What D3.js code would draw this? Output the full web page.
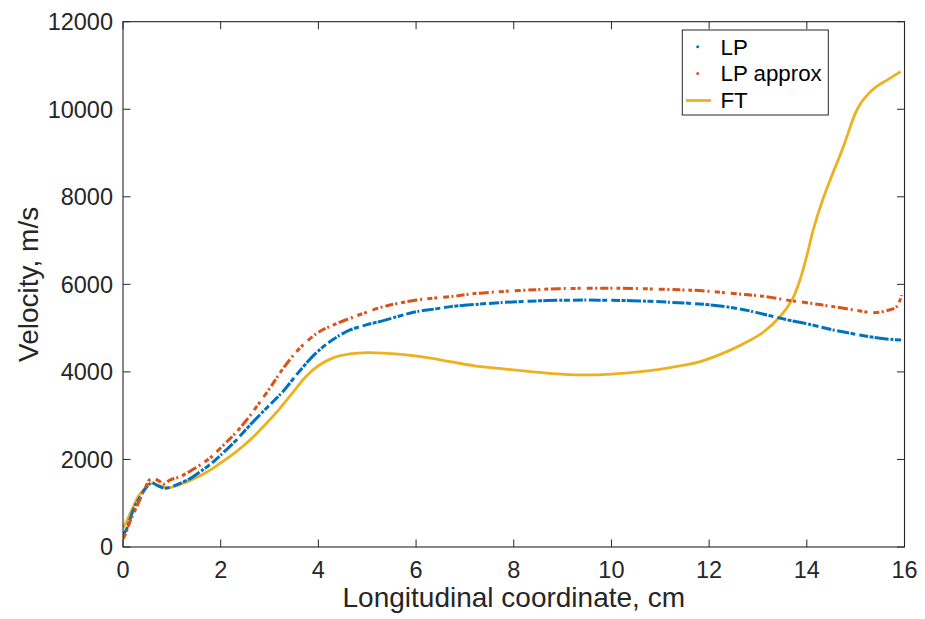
<!DOCTYPE html>
<html>
<head>
<meta charset="utf-8">
<script src="https://cdn.jsdelivr.net/npm/d3@7"></script>
<style>
  html, body { margin: 0; padding: 0; background: #fff; }
  svg { display: block; }
  text { font-family: "Liberation Sans", Arial, Helvetica, sans-serif; fill: #262626; }
</style>
</head>
<body>
<div id="chart"></div>
<script>
// ---- Data ----
const xTicks = [0, 2, 4, 6, 8, 10, 12, 14, 16];
const yTicks = [0, 2000, 4000, 6000, 8000, 10000, 12000];
const seriesNames = ["LP", "LP approx", "FT"];

const lpX = [0,0.07,0.14,0.21,0.35,0.49,0.59,0.69,0.86,1.0,1.17,1.4,1.58,1.8,2.0,2.3,2.6,2.9,3.28,3.6,3.97,4.3,4.65,5.0,5.33,5.7,6.01,6.4,6.7,7.2,7.72,8.3,8.9,9.5,10.0,10.6,11.2,11.88,12.4,12.8,13.18,13.6,14.0,14.54,15.0,15.36,15.7,15.98];
const lpY = [280,400,620,845,1150,1378,1470,1416,1340,1380,1455,1580,1720,1900,2100,2420,2787,3130,3560,4000,4450,4740,4958,5080,5171,5290,5377,5440,5491,5540,5582,5615,5635,5640,5635,5620,5590,5545,5480,5400,5300,5190,5100,4958,4860,4791,4745,4729];

const lpaX = [0,0.07,0.15,0.28,0.45,0.55,0.62,0.76,0.83,0.96,1.17,1.4,1.58,1.8,1.99,2.3,2.53,2.81,3.05,3.28,3.6,3.97,4.3,4.65,5.0,5.33,5.7,6.01,6.4,6.7,7.2,7.72,8.3,8.9,9.5,10.2,10.8,11.4,11.81,12.4,12.8,13.18,13.6,14.0,14.54,15.0,15.36,15.6,15.84,15.94];
const lpaY = [180,350,600,920,1340,1546,1570,1492,1440,1530,1606,1750,1873,2050,2255,2600,2900,3320,3700,4080,4520,4882,5070,5225,5370,5491,5580,5643,5690,5719,5790,5833,5870,5900,5910,5910,5895,5875,5857,5800,5760,5719,5640,5580,5491,5410,5353,5390,5491,5757];

const ftX = [0,0.1,0.21,0.3,0.42,0.52,0.6,0.7,0.86,1.0,1.2,1.4,1.7,2.0,2.3,2.6,2.9,3.2,3.5,3.75,4.0,4.3,4.65,5.0,5.4,5.7,6.2,6.7,7.2,7.7,8.3,8.8,9.4,10.0,10.7,11.2,11.8,12.4,12.8,13.1,13.45,13.7,13.86,14.0,14.13,14.3,14.48,14.75,14.99,15.1,15.25,15.43,15.65,15.92];
const ftY = [430,650,920,1130,1310,1420,1455,1420,1360,1370,1440,1530,1700,1920,2160,2444,2780,3150,3560,3900,4140,4320,4410,4440,4425,4400,4330,4234,4140,4080,4010,3960,3930,3950,4020,4100,4230,4480,4700,4900,5260,5650,6100,6650,7240,7850,8390,9150,9900,10130,10340,10520,10670,10860];

// ---- Layout ----
const W = 925, H = 619;
const L = 123, R = 904.5, T = 21.7, B = 547;
const colors = { lp: "#0072BD", lpa: "#D95319", ft: "#EDB120", axis: "#262626" };

const svg = d3.select("#chart").append("svg").attr("width", W).attr("height", H);

const x = d3.scaleLinear().domain([0, 16]).range([L, R]);
const y = d3.scaleLinear().domain([0, 12000]).range([B, T]);

svg.append("clipPath").attr("id", "clip").append("rect")
  .attr("x", L).attr("y", T).attr("width", R - L).attr("height", B - T);

const plot = svg.append("g").attr("clip-path", "url(#clip)");

const line = d3.line().x(d => x(d[0])).y(d => y(d[1])).curve(d3.curveCatmullRom.alpha(0.5));

const zip = (a, b) => a.map((v, i) => [v, b[i]]);

// FT solid line
plot.append("path").datum(zip(ftX, ftY))
  .attr("fill", "none").attr("stroke", colors.ft).attr("stroke-width", 2.8)
  .attr("d", line);

// LP (dotted markers look)
plot.append("path").datum(zip(lpX, lpY))
  .attr("fill", "none").attr("stroke", colors.lp).attr("stroke-width", 3)
  .attr("stroke-dasharray", "9,1.5,4,1.2,14,2,3,1.5,6,3,10,1.5,2,2.5,12,1.5,5,4")
  .attr("d", line);

// LP approx
plot.append("path").datum(zip(lpaX, lpaY))
  .attr("fill", "none").attr("stroke", colors.lpa).attr("stroke-width", 3)
  .attr("stroke-dasharray", "6,2.5,2,3,8,2,2,4,4,2.5,10,3,2,5,5,2,3,6")
  .attr("d", line);

// ---- Axes box ----
const axisG = svg.append("g");
axisG.append("rect").attr("x", L).attr("y", T).attr("width", R - L).attr("height", B - T)
  .attr("fill", "none").attr("stroke", colors.axis).attr("stroke-width", 1.1);

const tk = 7.5;
xTicks.forEach(t => {
  const px = x(t);
  axisG.append("line").attr("x1", px).attr("x2", px).attr("y1", B).attr("y2", B - tk)
    .attr("stroke", colors.axis).attr("stroke-width", 1);
  axisG.append("line").attr("x1", px).attr("x2", px).attr("y1", T).attr("y2", T + tk)
    .attr("stroke", colors.axis).attr("stroke-width", 1);
  axisG.append("text").attr("x", px).attr("y", 578.3)
    .attr("text-anchor", "middle").attr("font-size", 23.5).text(t);
});
yTicks.forEach(t => {
  const py = y(t);
  axisG.append("line").attr("x1", L).attr("x2", L + tk).attr("y1", py).attr("y2", py)
    .attr("stroke", colors.axis).attr("stroke-width", 1);
  axisG.append("line").attr("x1", R).attr("x2", R - tk).attr("y1", py).attr("y2", py)
    .attr("stroke", colors.axis).attr("stroke-width", 1);
  axisG.append("text").attr("x", 113).attr("y", py + 8.4)
    .attr("text-anchor", "end").attr("font-size", 23.5).text(t);
});

svg.append("text").attr("x", (L + R) / 2).attr("y", 606.7)
  .attr("text-anchor", "middle").attr("font-size", 28).text("Longitudinal coordinate, cm");
svg.append("text").attr("transform", `translate(38,${(T + B) / 2}) rotate(-90)`)
  .attr("text-anchor", "middle").attr("font-size", 28).text("Velocity, m/s");

// ---- Legend ----
const lg = svg.append("g");
lg.append("rect").attr("x", 682.3).attr("y", 30).attr("width", 146).attr("height", 85)
  .attr("fill", "#fff").attr("stroke", colors.axis).attr("stroke-width", 1);
const rows = [
  { name: seriesNames[0], type: "dot", color: colors.lp, cy: 46.7 },
  { name: seriesNames[1], type: "dot", color: colors.lpa, cy: 73.5 },
  { name: seriesNames[2], type: "line", color: colors.ft, cy: 100.5 }
];
rows.forEach(r => {
  if (r.type === "dot") {
    lg.append("circle").attr("cx", 697.7).attr("cy", r.cy).attr("r", 1.5).attr("fill", r.color);
  } else {
    lg.append("line").attr("x1", 686).attr("x2", 711).attr("y1", r.cy).attr("y2", r.cy)
      .attr("stroke", r.color).attr("stroke-width", 2.8);
  }
  lg.append("text").attr("x", 720.5).attr("y", r.cy + 7.8).attr("font-size", 22.3)
    .style("fill", "#000").text(r.name);
});
</script>
</body>
</html>
